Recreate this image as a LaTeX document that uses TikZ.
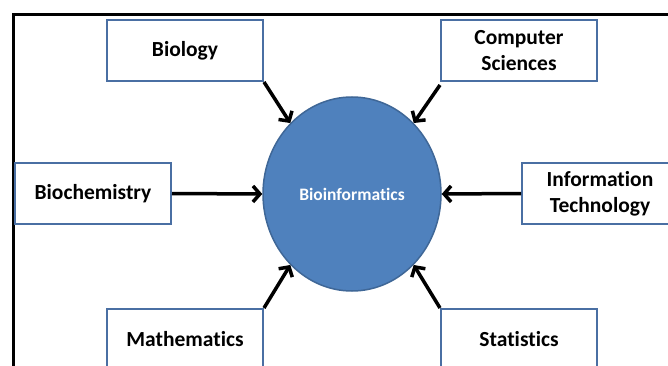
\documentclass[tikz,border=0pt]{standalone}
\usepackage{fontspec}
\setmainfont[Ligatures={NoCommon,NoContextual,NoRare}]{Carlito}
\usetikzlibrary{shapes.geometric,arrows.meta}
\definecolor{boxline}{HTML}{4A6FA3}
\definecolor{ellfill}{HTML}{4F81BD}
\definecolor{ellline}{HTML}{3F6797}
\tikzset{
  field/.style={draw=boxline, line width=2pt, fill=white, minimum width=156pt, minimum height=61pt,
    inner sep=0pt, align=center, font=\fontsize{21.5}{26}\selectfont\bfseries},
  feed/.style={line width=3.5pt, -{Straight Barb[length=7pt,width=16pt]}},
}
\begin{document}
\begin{tikzpicture}[x=1pt,y=-1pt]
\useasboundingbox (0,0) rectangle (668,366);
\clip (0,0) rectangle (668,366);
\draw[line width=3pt] (13.5,380) -- (13.5,15) -- (690,15);
\node[ellipse, fill=ellfill, draw=ellline, line width=1.5pt, minimum width=178pt, minimum height=194pt,
  inner sep=0pt, text=white, font=\fontsize{17.5}{21}\selectfont\bfseries] (bio) at (352,194) {Bioinformatics};
\node[field] (biol) at (185,50.5) {Biology};
\node[field] (cs) at (519,50.5) {Computer\\Sciences};
\node[field] (bchem) at (93,193.5) {Biochemistry};
\node[field] (it) at (600,193.5) {Information\\Technology};
\node[field] (math) at (185,339.5) {Mathematics};
\node[field] (stat) at (519,339.5) {Statistics};
\draw[feed] (biol.south east) -- (bio.131);
\draw[feed] ([yshift=-3pt]cs.south west) -- (bio.49);
\draw[feed] (bchem.east) -- (bio.west);
\draw[feed] (it.west) -- (bio.east);
\draw[feed] (math.north east) -- (bio.229);
\draw[feed] (stat.north west) -- (bio.311);
\end{tikzpicture}
\end{document}
